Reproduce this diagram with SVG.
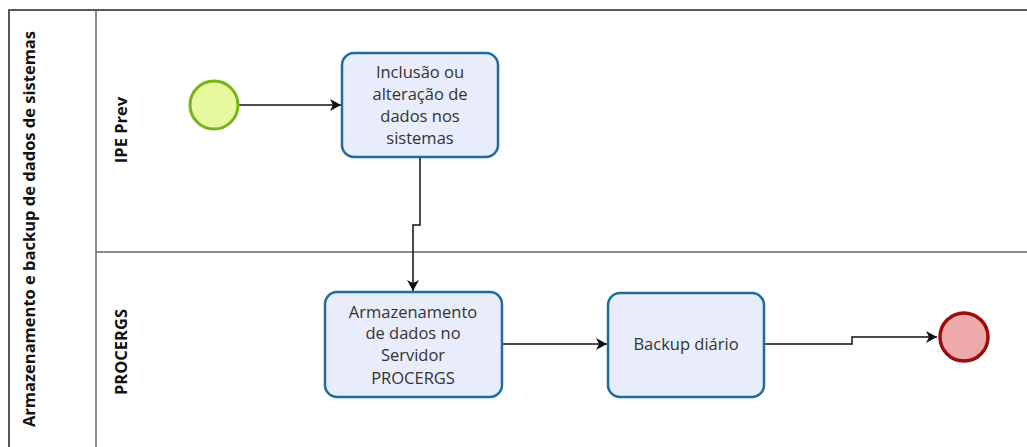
<svg xmlns="http://www.w3.org/2000/svg" width="1027" height="447" viewBox="0 0 1027 447">
<defs>
<style>
.pool{fill:none;stroke:#222;stroke-width:1.5}
.lane{fill:none;stroke:#666;stroke-width:1.5}
.task{fill:#e9edfb;stroke:#1d6e9e;stroke-width:2.5}
.t{font-family:"Open Sans","DejaVu Sans",sans-serif;font-size:16.5px;fill:#333;text-anchor:middle}
.lbl{font-family:"Open Sans","DejaVu Sans",sans-serif;font-size:16.5px;font-weight:bold;fill:#111;text-anchor:middle}
.flow{fill:none;stroke:#111;stroke-width:1.5}
</style>
<marker id="arr" markerWidth="12" markerHeight="12" refX="11" refY="6" orient="auto" markerUnits="userSpaceOnUse">
<path d="M0,0 L11,6 L0,12 L3,6 Z" fill="#111"/>
</marker>
</defs>
<rect width="1027" height="447" fill="#fff"/>
<g id="pool">
<path class="pool" d="M1027,10 H9 V447"/>
<line class="lane" x1="96" y1="10" x2="96" y2="447"/>
<line class="lane" x1="96" y1="252" x2="1027" y2="252"/>
<text class="lbl" transform="translate(35,229) rotate(-90)">Armazenamento e backup de dados de sistemas</text>
</g>
<g id="lane-ipe"><text class="lbl" transform="translate(127,130) rotate(-90)">IPE Prev</text></g>
<g id="lane-procergs"><text class="lbl" transform="translate(127,352) rotate(-90)">PROCERGS</text></g>
<g id="connectors">
<path class="flow" d="M239,105 H341" marker-end="url(#arr)"/>
<path class="flow" d="M420,157 V225 H413 V291" marker-end="url(#arr)"/>
<path class="flow" d="M502,344 H607" marker-end="url(#arr)"/>
<path class="flow" d="M764,344 H852 V337 H937" marker-end="url(#arr)"/>
</g>
<g id="start"><circle cx="214" cy="105" r="24" fill="#e6f99e" stroke="#78b417" stroke-width="3"/></g>
<g id="task1">
<rect class="task" x="342" y="53" width="156" height="104" rx="12"/>
<text class="t"><tspan x="420" y="78">Inclusão ou</tspan><tspan x="420" y="100">alteração de</tspan><tspan x="420" y="122">dados nos</tspan><tspan x="420" y="144">sistemas</tspan></text>
</g>
<g id="task2">
<rect class="task" x="325" y="292" width="177" height="105" rx="12"/>
<text class="t"><tspan x="413" y="318">Armazenamento</tspan><tspan x="413" y="339">de dados no</tspan><tspan x="413" y="361">Servidor</tspan><tspan x="413" y="384">PROCERGS</tspan></text>
</g>
<g id="task3">
<rect class="task" x="608" y="293" width="156" height="104" rx="12"/>
<text class="t" x="686" y="350">Backup diário</text>
</g>
<g id="end"><circle cx="964" cy="337" r="24" fill="#eeaaaa" stroke="#9c0d0d" stroke-width="3.5"/></g>
</svg>
